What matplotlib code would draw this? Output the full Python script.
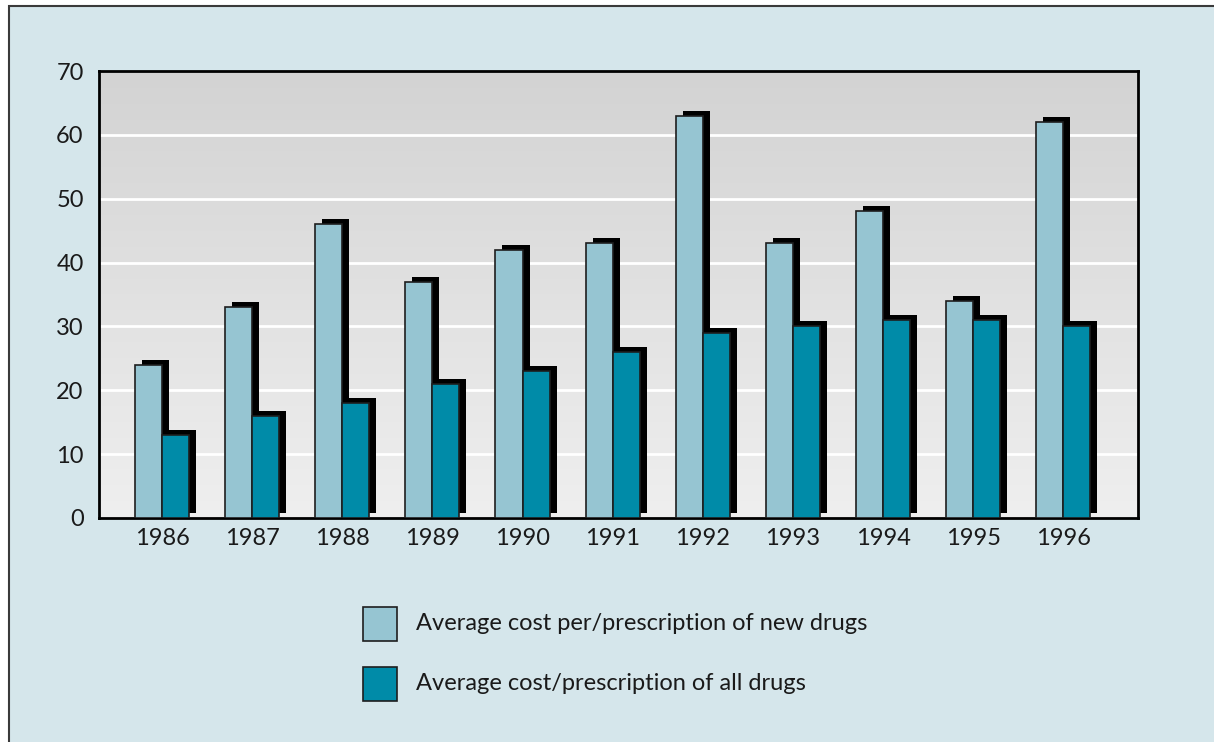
import matplotlib
matplotlib.use("Agg")
import matplotlib.pyplot as plt
from matplotlib.patches import Rectangle
from matplotlib.transforms import ScaledTranslation
import numpy as np

plt.rcParams['font.family'] = ['Lato', 'DejaVu Sans']

years = ['1986', '1987', '1988', '1989', '1990', '1991',
         '1992', '1993', '1994', '1995', '1996']
new_drugs = [24, 33, 46, 37, 42, 43, 63, 43, 48, 34, 62]
all_drugs = [13, 16, 18, 21, 23, 26, 29, 30, 31, 31, 30]
labels = ['Average cost per/prescription of new drugs',
          'Average cost/prescription of all drugs']

c_new = '#96c5d2'
c_all = '#008ba8'
bg = '#d5e6eb'
W, H = 1214, 742

fig = plt.figure(figsize=(W / 100, H / 100), dpi=100, facecolor='white')

# light blue panel with a border on top and left
panel = Rectangle((9 / W, -0.1), 1.2, 1 - 6 / H + 0.1,
                  transform=fig.transFigure, facecolor=bg,
                  edgecolor='#3a3a3a', linewidth=1.5, zorder=0)
fig.patches.append(panel)

ax = fig.add_axes([99 / W, 1 - 518 / H, (1138 - 99) / W, (518 - 71) / H])
ax.set_zorder(1)

# grey gradient background
grad = np.linspace(0, 1, 256).reshape(-1, 1)
ax.imshow(grad, extent=[0, 1, 0, 1], transform=ax.transAxes,
          cmap=matplotlib.colors.LinearSegmentedColormap.from_list('g', ['#d3d3d3', '#efefef']),
          aspect='auto', zorder=0)

x = np.arange(len(years))
w = 0.3

# drop shadows
shift = ax.transData + ScaledTranslation(7 / 100, 5 / 100, fig.dpi_scale_trans)
ax.bar(x - w / 2, new_drugs, w, color='black', transform=shift, zorder=2)
ax.bar(x + w / 2, all_drugs, w, color='black', transform=shift, zorder=2)

ax.bar(x - w / 2, new_drugs, w, color=c_new, edgecolor='#1e1e1e', linewidth=1.2, zorder=3)
ax.bar(x + w / 2, all_drugs, w, color=c_all, edgecolor='#1e1e1e', linewidth=1.2, zorder=3)

ax.set_xlim(-0.70, 10.83)
ax.set_ylim(0, 70)
ax.set_yticks(range(0, 71, 10))
ax.set_xticks(x)
ax.set_xticklabels(years)
ax.tick_params(length=0, labelsize=17, colors='#1a1a1a', pad=7)
ax.tick_params(axis='y', pad=11)
for y in range(10, 70, 10):
    ax.axhline(y, color='white', linewidth=2, zorder=1)
for s in ax.spines.values():
    s.set_linewidth(2)
    s.set_color('black')

# legend drawn by hand, positions in figure pixels
for i, (lab, col) in enumerate(zip(labels, [c_new, c_all])):
    top = 607 + i * 60
    fig.patches.append(Rectangle((363 / W, 1 - (top + 34) / H), 34 / W, 34 / H,
                                 transform=fig.transFigure, facecolor=col,
                                 edgecolor='#1e1e1e', linewidth=1.2, zorder=2))
    fig.text(416 / W, 1 - (top + 17) / H, lab, fontsize=17, color='#1a1a1a',
             va='center', ha='left')

fig.savefig('out.png', dpi=100, facecolor=fig.get_facecolor())
